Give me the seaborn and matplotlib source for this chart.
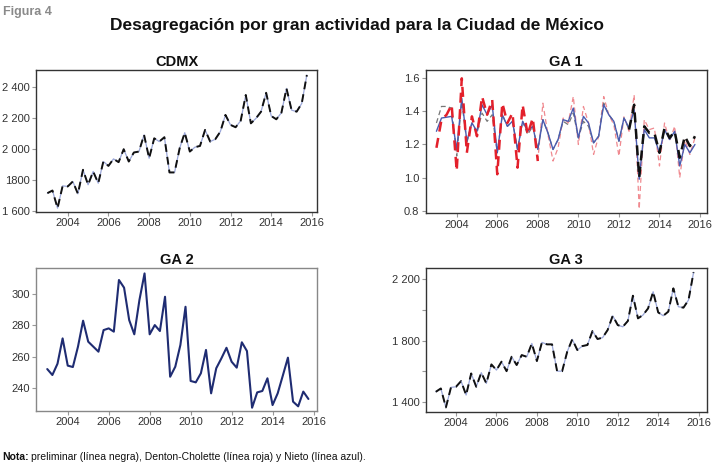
import matplotlib
matplotlib.use("Agg")
import matplotlib.pyplot as plt
import numpy as np
import pandas as pd
import seaborn as sns

# trimestres 2003T1 - 2015T4
trimestres = 2003 + np.arange(52) / 4

cdmx = [1717, 1734, 1621, 1764, 1760, 1792, 1713, 1867, 1771, 1856, 1781, 1920,
        1892, 1937, 1916, 1999, 1920, 1978, 1984, 2091, 1941, 2069, 2048, 2076,
        1850, 1850, 2005, 2105, 1984, 2012, 2020, 2123, 2048, 2063, 2112, 2219,
        2155, 2140, 2182, 2347, 2165, 2197, 2240, 2361, 2212, 2191, 2233, 2389,
        2250, 2240, 2293, 2475]

ga1_prelim = [1.33, 1.43, 1.43, 1.42, 1.13, 1.46, 1.21, 1.33, 1.27, 1.39, 1.34, 1.38,
              1.15, 1.38, 1.31, 1.34, 1.17, 1.34, 1.26, 1.31, 1.17, 1.35, 1.27, 1.17,
              1.23, 1.34, 1.32, 1.39, 1.24, 1.34, 1.31, 1.21, 1.25, 1.45, 1.38, 1.34,
              1.22, 1.36, 1.29, 1.44, 1.00, 1.31, 1.27, 1.27, 1.15, 1.30, 1.24, 1.28,
              1.12, 1.25, 1.19, 1.25]
ga1_denton = [1.18, 1.35, 1.38, 1.44, 1.04, 1.60, 1.15, 1.37, 1.25, 1.49, 1.38, 1.47,
              1.02, 1.45, 1.33, 1.39, 1.06, 1.44, 1.26, 1.36, 1.10, 1.45, 1.26, 1.10,
              1.18, 1.36, 1.33, 1.49, 1.20, 1.43, 1.33, 1.14, 1.25, 1.49, 1.38, 1.32,
              1.13, 1.37, 1.28, 1.50, 0.81, 1.35, 1.29, 1.30, 1.07, 1.33, 1.22, 1.31,
              1.00, 1.23, 1.14, 1.24]
ga1_nieto = [1.28, 1.36, 1.365, 1.37, 1.17, 1.48, 1.22, 1.33, 1.28, 1.44, 1.38, 1.44,
             1.15, 1.38, 1.31, 1.34, 1.17, 1.34, 1.28, 1.31, 1.17, 1.35, 1.27, 1.17,
             1.23, 1.35, 1.34, 1.42, 1.24, 1.37, 1.33, 1.21, 1.25, 1.44, 1.38, 1.34,
             1.22, 1.36, 1.30, 1.41, 0.99, 1.29, 1.24, 1.24, 1.15, 1.29, 1.23, 1.28,
             1.07, 1.20, 1.15, 1.20]

ga2 = [252.1, 248.3, 255.5, 271.7, 254.3, 253.4, 266.4, 283.0, 269.6, 266.4, 263.2, 277.0,
       278.1, 276.0, 309.0, 304.1, 283.4, 274.3, 296.2, 313.2, 274.3, 280.2, 276.4, 298.3,
       247.2, 253.6, 267.5, 291.9, 244.5, 243.6, 249.4, 264.3, 236.6, 252.6, 258.9, 265.7,
       256.8, 253.0, 269.2, 263.6, 227.4, 237.2, 238.1, 246.2, 229.1, 236.6, 247.9, 259.4,
       231.3, 228.3, 237.7, 233.0]

ga3 = [1465, 1487, 1363, 1494, 1498, 1535, 1444, 1585, 1498, 1590, 1520, 1644,
       1607, 1662, 1600, 1694, 1640, 1705, 1694, 1781, 1666, 1788, 1775, 1775,
       1600, 1600, 1727, 1808, 1738, 1764, 1771, 1862, 1810, 1819, 1869, 1962,
       1901, 1890, 1928, 2093, 1945, 1967, 2010, 2119, 1984, 1962, 1989, 2141,
       2021, 2015, 2065, 2246]

x_ticks = [2004, 2006, 2008, 2010, 2012, 2014, 2016]
cdmx_ticks = [1600, 1800, 2000, 2200, 2400]
cdmx_labels = ["1 600", "1800", "2 000", "2 200", "2 400"]
ga1_ticks = [0.8, 1.0, 1.2, 1.4, 1.6]
ga1_labels = ["0.8", "1.0", "1.2", "1.4", "1.6"]
ga2_ticks = [240, 260, 280, 300]
ga3_ticks = [1400, 1600, 1800, 2000, 2200]
ga3_labels = ["1 400", "", "1 800", "", "2 200"]

sns.set_style("white")
plt.rcParams["font.family"] = ["Liberation Sans Narrow", "Liberation Sans", "DejaVu Sans"]

NEGRO = "#111111"
ROJO = "#e3202b"
AZUL = "#4a5cb0"
AZUL_CLARO = "#9aa6d8"
AZUL_OSC = "#1f2c72"
DASH = (0, (4, 2.6))


def base_axes(ax, title, xlim, ylim, yticks, ylabels, spine_color="#333333"):
    ax.set_xlim(*xlim)
    ax.set_ylim(*ylim)
    ax.set_xticks(x_ticks)
    ax.set_xticklabels([str(t) for t in x_ticks])
    ax.set_yticks(yticks)
    ax.set_yticklabels(ylabels)
    ax.tick_params(axis="both", direction="out", length=3, width=0.8,
                   color="#999999", labelsize=8, labelcolor="#333333", pad=1.5,
                   left=True, bottom=True)
    for s in ax.spines.values():
        s.set_visible(True)
        s.set_color(spine_color)
        s.set_linewidth(1.0)
    ax.set_title(title, fontsize=10.5, fontweight="bold", pad=3, color="#111111")
    ax.set_xlabel("")
    ax.set_ylabel("")


fig = plt.figure(figsize=(7.14, 4.65), dpi=100)

# CDMX
ax1 = fig.add_axes([0.0504, 0.544, 0.3936, 0.3054])
sns.lineplot(x=trimestres, y=cdmx, ax=ax1, color=AZUL_CLARO, lw=0.9)
sns.lineplot(x=trimestres, y=cdmx, ax=ax1, color=NEGRO, lw=1.4, linestyle=DASH)
base_axes(ax1, "CDMX", (2002.44, 2016.25), (1596, 2507), cdmx_ticks, cdmx_labels)

# GA 1
ax2 = fig.add_axes([0.5962, 0.5413, 0.3936, 0.308])
sns.lineplot(x=trimestres[20:], y=ga1_denton[20:], ax=ax2, color="#f08a90",
             lw=0.9, linestyle=DASH)
sns.lineplot(x=trimestres[:39], y=ga1_prelim[:39], ax=ax2, color="#777777",
             lw=0.9, linestyle=DASH)
sns.lineplot(x=trimestres, y=ga1_nieto, ax=ax2, color=AZUL, lw=1.0)
sns.lineplot(x=trimestres[:21], y=ga1_denton[:21], ax=ax2, color=ROJO,
             lw=1.8, linestyle=DASH)
sns.lineplot(x=trimestres[38:], y=ga1_prelim[38:], ax=ax2, color=NEGRO,
             lw=1.8, linestyle=DASH)
base_axes(ax2, "GA 1", (2002.47, 2016.33), (0.784, 1.65), ga1_ticks, ga1_labels)

# GA 2
ax3 = fig.add_axes([0.0504, 0.1161, 0.3936, 0.308])
sns.lineplot(x=trimestres, y=ga2, ax=ax3, color=AZUL_OSC, lw=1.5)
base_axes(ax3, "GA 2", (2002.45, 2016.17), (225.3, 316.8), ga2_ticks,
          [str(t) for t in ga2_ticks], spine_color="#888888")

# GA 3
ax4 = fig.add_axes([0.5962, 0.1146, 0.3936, 0.3097])
sns.lineplot(x=trimestres, y=ga3, ax=ax4, color=AZUL_CLARO, lw=0.9)
sns.lineplot(x=trimestres, y=ga3, ax=ax4, color=NEGRO, lw=1.4, linestyle=DASH)
base_axes(ax4, "GA 3", (2002.5, 2016.4), (1335, 2276), ga3_ticks, ga3_labels)

fig.text(0.004, 0.987, "Figura 4", fontsize=9, fontweight="bold",
         color="#8a8a8a", va="top", ha="left")
fig.text(0.5, 0.945, "Desagregación por gran actividad para la Ciudad de México",
         fontsize=12.5, fontweight="bold", color="#111111", va="center", ha="center")
fig.text(0.003, 0.018, "Nota:", fontsize=7.5, fontweight="bold", color="#111111",
         va="center", ha="left")
fig.text(0.043, 0.018,
         "preliminar (línea negra), Denton-Cholette (línea roja) y Nieto (línea azul).",
         fontsize=7.5, color="#111111", va="center", ha="left")

fig.savefig("out.png", dpi=100)
